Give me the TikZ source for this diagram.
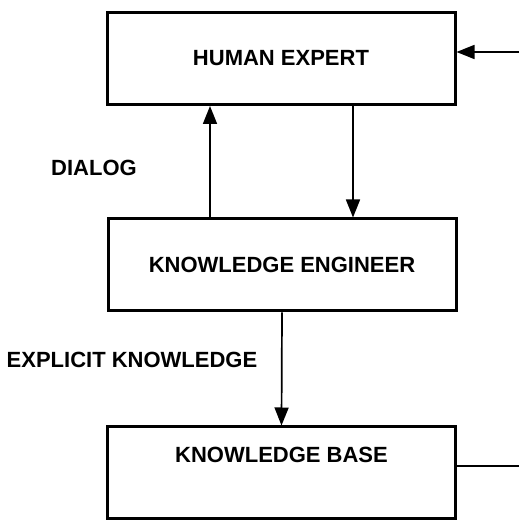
\documentclass[tikz,border=0pt]{standalone}
\usepackage{fontspec}
\setmainfont{Liberation Sans}
\usetikzlibrary{arrows.meta}
\begin{document}
\begin{tikzpicture}[x=1pt,y=1pt,
  box/.style={draw=black,line width=3pt,minimum width=348pt,minimum height=92pt,inner sep=0pt},
  lbl/.style={font=\fontsize{22}{26}\selectfont\bfseries,inner sep=0pt},
  conn/.style={line width=1.7pt},
  arr/.style={conn,-{Triangle[length=18pt,width=14pt]}}]
\useasboundingbox (0,0) rectangle (519,521);
\node[box,lbl] (he) at (281,462.5) {HUMAN EXPERT};
\node[box,lbl] (ke) at (282,256) {KNOWLEDGE ENGINEER};
\node[box] (kb) at (281.5,48) {};
\node[lbl] (kbt) at (281.5,66) {KNOWLEDGE BASE};
\node[lbl] (dialog) at (94,353) {DIALOG};
\node[lbl] (explicit) at (132,161) {EXPLICIT KNOWLEDGE};
\coordinate (in) at (519,469);
\coordinate (out) at (519,55);
\coordinate (xl) at (210,0);
\coordinate (xr) at (353,0);
\draw[arr] (in) -- (in -| he.east);
\draw[arr] (ke.north -| xl) -- (he.south -| xl);
\draw[arr] (he.south -| xr) -- (ke.north -| xr);
\draw[arr] (ke.south) -- (kb.north);
\draw[conn] (out -| kb.east) -- (out);
\end{tikzpicture}
\end{document}
